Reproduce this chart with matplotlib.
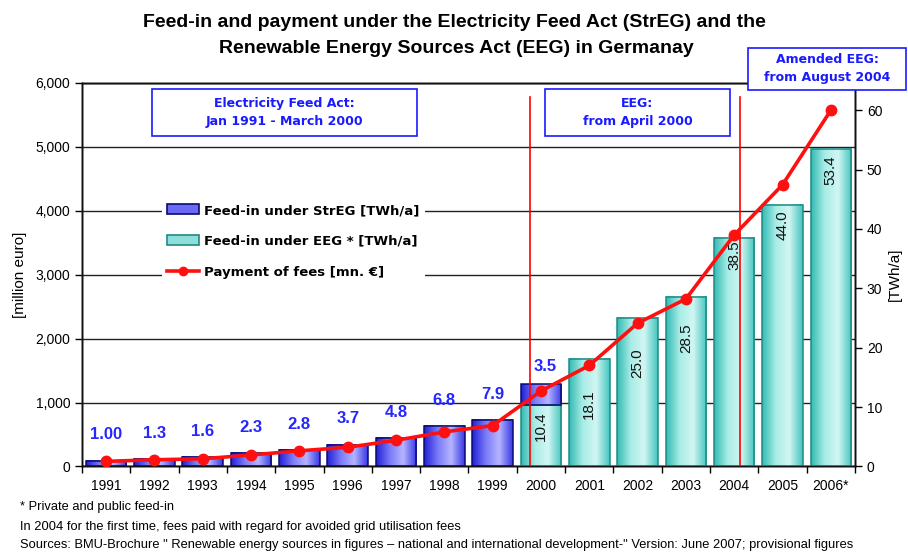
import numpy as np
import matplotlib
matplotlib.use("Agg")
import matplotlib.pyplot as plt
from matplotlib.colors import LinearSegmentedColormap
from matplotlib.patches import Patch, Rectangle
from matplotlib.lines import Line2D

# data
years = ["1991", "1992", "1993", "1994", "1995", "1996", "1997", "1998",
         "1999", "2000", "2001", "2002", "2003", "2004", "2005", "2006*"]
streg_twh = [1.00, 1.3, 1.6, 2.3, 2.8, 3.7, 4.8, 6.8, 7.9, 3.5]          # 1991-2000
streg_labels = ["1.00", "1.3", "1.6", "2.3", "2.8", "3.7", "4.8", "6.8", "7.9", "3.5"]
eeg_twh = [10.4, 18.1, 25.0, 28.5, 38.5, 44.0, 53.4]                    # 2000-2006
eeg_labels = ["10.4", "18.1", "25.0", "28.5", "38.5", "44.0", "53.4"]
payment = [80, 105, 120, 180, 245, 300, 410, 540, 640,
           1180, 1580, 2240, 2620, 3620, 4405, 5570]                    # million euro
eeg_start = (2000, 4)    # April 2000
eeg_amend = (2004, 8)    # August 2004

# styling
blue_cmap = LinearSegmentedColormap.from_list("b", ["#2222d8", "#7a7af8", "#b4b4ff", "#3a3ae6"])
cyan_cmap = LinearSegmentedColormap.from_list("c", ["#34bcb4", "#a8ece6", "#d2f6f3", "#44c6be"])
grad = np.linspace(0, 1, 64).reshape(1, -1)
w = 0.84
cyan_pad = [5, 22, 22, 19, 2, 4, 4]   # label distance below bar top (pt)

fig = plt.figure(figsize=(9.08, 5.55), dpi=100)
ax = fig.add_axes([0.0903, 0.1595, 0.8513, 0.6913])   # million euro, grid
ax2 = ax.twinx()                                      # TWh bars
ax3 = ax.twinx()                                      # payment line

x = np.arange(len(years))


def grad_bar(a, xc, bottom, h, cmap, edge):
    a.imshow(grad, cmap=cmap, extent=[xc - w / 2, xc + w / 2, bottom, bottom + h],
             aspect="auto", interpolation="bicubic", zorder=2)
    a.bar(xc, h, w, bottom=bottom, facecolor="none", edgecolor=edge, lw=1.1, zorder=3)


# EEG bars (2000 onwards)
for i, v in enumerate(eeg_twh):
    grad_bar(ax2, x[9 + i], 0, v, cyan_cmap, "#1f8a84")
    ax2.annotate(eeg_labels[i], (x[9 + i], v), xytext=(0, -cyan_pad[i]),
                 textcoords="offset points", rotation=90, ha="center", va="top",
                 fontsize=11, family="Liberation Sans", color="#111111", zorder=5)

# StrEG bars (1991 - March 2000 on top of EEG)
for i, v in enumerate(streg_twh):
    bottom = eeg_twh[0] if i == 9 else 0
    grad_bar(ax2, x[i], bottom, v, blue_cmap, "#0a0a70")
    dy = 7 if i == 9 else 13
    dx = 3 if i == 9 else 0
    ax2.annotate(streg_labels[i], (x[i], bottom + v), xytext=(dx, dy),
                 textcoords="offset points", ha="center", va="bottom",
                 fontsize=12, fontweight="bold", family="Liberation Sans",
                 color="#2626ff", zorder=5)

# payment line
ax3.plot(x, payment, color="#ff1010", lw=2.6, marker="o", ms=7.5, zorder=6)


def to_x(ym):
    return ym[0] - 1991 - 0.5 + (ym[1] - 1) / 12


for d in (eeg_start, eeg_amend):
    ax3.axvline(to_x(d) + 0.03, ymin=0, ymax=0.963, color="#ff0000", lw=1.2, zorder=4)

# axes
ax.set_ylim(0, 6000)
ax.set_yticks(np.arange(0, 6001, 1000))
ax.set_yticklabels([f"{t:,}" for t in range(0, 6001, 1000)], family="Liberation Sans", fontsize=10)
ax.grid(axis="y", color="#222222", lw=1.0)
ax.set_axisbelow(True)
ax.set_ylabel("[million euro]", family="Liberation Sans", fontsize=11, labelpad=6)
ax.tick_params(axis="y", length=5, width=1)

ax2.set_ylim(0, 64.6)
ax2.set_yticks(np.arange(0, 61, 10))
ax2.set_yticklabels([str(t) for t in range(0, 61, 10)], family="Liberation Sans", fontsize=10)
ax2.set_ylabel("[TWh/a]", family="Liberation Sans", fontsize=11, labelpad=4)
ax2.tick_params(axis="y", length=5, width=1)

ax3.set_ylim(0, 6000)
ax3.set_yticks([])
ax3.patch.set_visible(False)
ax2.patch.set_visible(False)

for a in (ax, ax2, ax3):
    a.set_xlim(-0.5, len(years) - 0.5)
ax.set_xticks(x)
ax.set_xticklabels(years, family="Liberation Sans", fontsize=10)
ax.set_xticks(np.arange(-0.5, len(years), 1), minor=True)
ax.tick_params(axis="x", which="major", length=0, pad=9)
ax.tick_params(axis="x", which="minor", length=5, width=1)
for a in (ax2, ax3):
    a.tick_params(axis="x", which="both", length=0, labelbottom=False)
for a in (ax, ax2, ax3):
    for s in a.spines.values():
        s.set_color("#111111")
        s.set_linewidth(1.0)

# legend
handles = [Patch(facecolor="#6a6af4", edgecolor="#0a0a70", lw=1.2),
           Patch(facecolor="#8edfd9", edgecolor="#1f8a84", lw=1.2),
           Line2D([], [], color="#ff1010", lw=2.6, marker="o", ms=6)]
labels = ["Feed-in under StrEG [TWh/a]", "Feed-in under EEG * [TWh/a]", "Payment of fees [mn. \u20ac]"]
leg = ax3.legend(handles, labels, loc="upper left", bbox_to_anchor=(0.1035, 0.698),
                 frameon=True, facecolor="white", edgecolor="none", framealpha=1,
                 prop={"weight": "bold", "size": 9.5, "family": "DejaVu Sans"},
                 handlelength=2.4, handleheight=0.8, handletextpad=0.4,
                 labelspacing=1.35, borderpad=0.4, borderaxespad=0)
leg.get_frame().set_boxstyle("square", pad=0)

# text boxes
box_font = dict(color="#1a1aff", fontsize=9, fontweight="bold", family="DejaVu Sans",
                ha="center", va="center", linespacing=1.5)
for (x0, x1, txt) in [(0.0906, 0.4334, "Electricity Feed Act:\nJan 1991 - March 2000"),
                      (0.599, 0.838, "EEG:\nfrom April 2000")]:
    ax3.add_patch(Rectangle((x0, 0.861), x1 - x0, 0.123, transform=ax3.transAxes,
                            facecolor="white", edgecolor="#1a1aff", lw=1.2, zorder=7))
    ax3.text((x0 + x1) / 2, 0.9225, txt, transform=ax3.transAxes, zorder=8, **box_font)

fig.patches.append(Rectangle((0.824, 0.838), 0.174, 0.0755, transform=fig.transFigure,
                             facecolor="white", edgecolor="#1a1aff", lw=1.2, zorder=7))
fig.text(0.911, 0.876, "Amended EEG:\nfrom August 2004", zorder=8, **box_font)

# title
title_font = dict(ha="center", va="center", fontsize=14, fontweight="bold", family="Liberation Sans")
fig.text(0.501, 0.960, "Feed-in and payment under the Electricity Feed Act (StrEG) and the", **title_font)
fig.text(0.503, 0.912, "Renewable Energy Sources Act (EEG) in Germanay", **title_font)

# footnotes
foot = dict(fontsize=9.3, family="Liberation Sans", ha="left", va="center")
fig.text(0.022, 0.0865, "* Private and public feed-in", **foot)
fig.text(0.022, 0.050, "In 2004 for the first time, fees paid with regard for avoided grid utilisation fees", **foot)
fig.text(0.022, 0.018, "Sources: BMU-Brochure \" Renewable energy sources in figures \u2013 national and international "
         "development-\" Version: June 2007; provisional figures", **foot)

fig.savefig("out.png", dpi=100)
